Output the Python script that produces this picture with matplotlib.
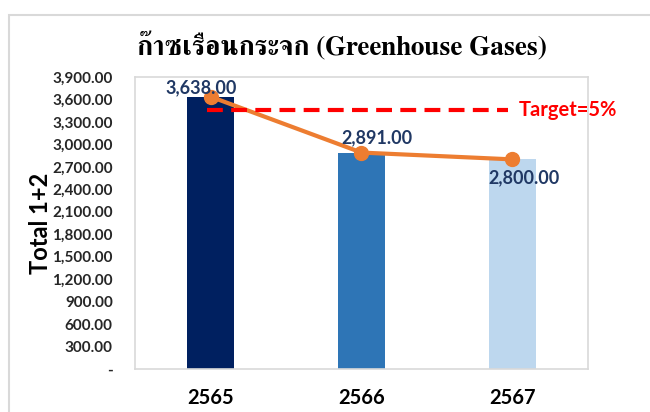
import matplotlib
matplotlib.use("Agg")
import matplotlib.pyplot as plt
from matplotlib.patches import Rectangle
from matplotlib.ticker import FuncFormatter

years = ["2565", "2566", "2567"]
totals = [3638.00, 2891.00, 2800.00]
target = 3638.00 * 0.95
bar_colors = ["#002060", "#2E75B6", "#BDD7EE"]
yticks = list(range(0, 4200, 300))

plt.rcParams["font.family"] = ["Lato", "DejaVu Sans"]

fig = plt.figure(figsize=(6.5, 4.12), dpi=100)
ax = fig.add_axes([0.2077, 0.1044, 0.6969, 0.7086])

# outer chart border
fig.patches.append(Rectangle((0.0138, -0.1), 1.2, 1.0636, transform=fig.transFigure,
                             fill=False, edgecolor="#D9D9D9", linewidth=1.5))

x = list(range(len(years)))
ax.bar(x, totals, width=0.31, color=bar_colors, zorder=2)
ax.plot(x, totals, color="#ED7D31", linewidth=3, marker="o", markersize=10, zorder=3)
ax.plot([-0.02, 1.97], [target, target], color="#FF0000", linewidth=3,
        dashes=(3.8, 2), zorder=4)
ax.text(2.04, target, "Target=5%", color="#FF0000", fontsize=14.5, fontweight="bold",
        va="center", ha="left", clip_on=False, zorder=5)

offsets = [(-9, 9), (15, 15), (12, -18)]
for xi, v, off in zip(x, totals, offsets):
    ax.annotate(f"{v:,.2f}", (xi, v), xytext=off, textcoords="offset pixels",
                ha="center", va="center", fontsize=13, fontweight="bold",
                color="#203864", zorder=6)

ax.set_xlim(-0.5, 2.5)
ax.set_ylim(0, 3900)
ax.set_yticks(yticks)
ax.yaxis.set_major_formatter(FuncFormatter(lambda v, p: "-" if v == 0 else f"{v:,.2f}"))
ax.set_xticks(x)
ax.set_xticklabels(years, fontsize=14.5, fontweight="bold", color="black")
ax.tick_params(axis="y", length=0, pad=16, labelsize=11, labelcolor="#262626")
ax.tick_params(axis="x", length=0, pad=14)
for lbl in ax.get_yticklabels():
    lbl.set_fontweight("bold")

for s in ax.spines.values():
    s.set_color("#D9D9D9")
    s.set_linewidth(1.2)

ax.set_ylabel("Total 1+2", fontsize=17, fontweight="bold", color="black", labelpad=0)

fig.text(0.526, 0.886, "ก๊าซเรือนกระจก (Greenhouse Gases)", ha="center", va="center",
         fontsize=19.5, fontweight="bold", family=["FreeSerif", "DejaVu Serif"])

fig.savefig("out.png", dpi=100)
